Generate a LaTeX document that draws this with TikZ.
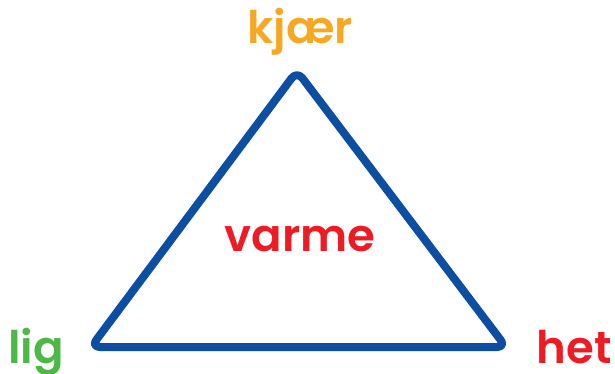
\documentclass[tikz,border=0pt]{standalone}
\usepackage{fontspec}
\setmainfont{Poppins}[UprightFont=* SemiBold, BoldFont=* Bold]
\usepackage{tikz}
\usetikzlibrary{positioning}
\definecolor{triblue}{HTML}{0B4EA2}
\definecolor{wordred}{HTML}{ED1C24}
\definecolor{wordorange}{HTML}{F7A823}
\definecolor{wordgreen}{HTML}{4DB848}

\begin{document}
\begin{tikzpicture}[x=1pt, y=-1pt,
  word/.style={font=\fontsize{45}{45}\selectfont, inner sep=0pt, anchor=base},
  edge/.style={draw=triblue, line width=8pt, rounded corners=9pt, line join=round}
]
\useasboundingbox (0,0) rectangle (615,373);

% corners of the triangle
\coordinate (top) at (297,71);
\coordinate (left) at (91,347);
\coordinate (right) at (506,347);

\draw[edge] (top) -- (right) -- (left) -- cycle;

\node[word, text=wordorange] (kjaer) at (300,43) {kjær};
\node[word, text=wordred] (varme) at (300,251) {varme};
\node[word, text=wordgreen, anchor=base west] (lig) at (8,363) {lig};
\node[word, text=wordred, anchor=base east] (het) at (612,363) {het};

\end{tikzpicture}
\end{document}
